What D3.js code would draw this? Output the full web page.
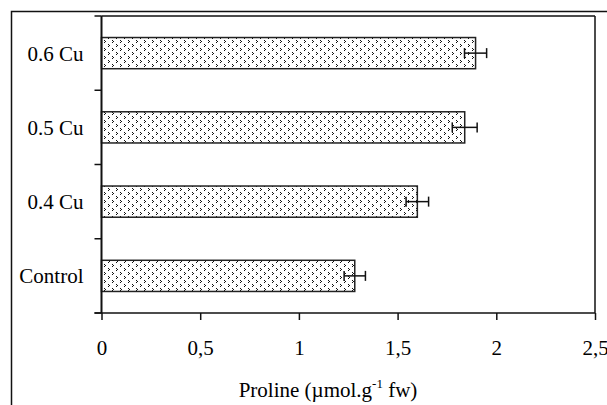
<!DOCTYPE html>
<html><head><meta charset="utf-8">
<script src="https://cdn.jsdelivr.net/npm/d3@7"></script>
<style>body{margin:0;background:#fff}svg{display:block}text{font-family:"Liberation Serif","Times New Roman",serif;fill:#000}</style>
</head><body><svg id="c" width="607" height="405"></svg>
<script>
const categories = ["0.6 Cu", "0.5 Cu", "0.4 Cu", "Control"];
const values = [1.895, 1.84, 1.60, 1.283];
const errors = [0.056, 0.063, 0.057, 0.054];
const xTicks = [0, 0.5, 1, 1.5, 2, 2.5];
const xTickLabels = ["0", "0,5", "1", "1,5", "2", "2,5"];

const svg = d3.select("#c");
const L = 101.5, R = 595, T = 16, B = 313;
const FS = 21;
const x = d3.scaleLinear().domain([0, 2.5]).range([L, R]);
const y = d3.scaleBand().domain(categories).range([T, B]).padding(0);
const barH = y.bandwidth() * 0.42;

const defs = svg.append("defs");
const pat = defs.append("pattern").attr("id", "dots").attr("patternUnits", "userSpaceOnUse")
  .attr("width", 8).attr("height", 8);
pat.append("rect").attr("width", 8).attr("height", 8).attr("fill", "#fff");
[[0,0],[1,1],[0,2],[4,4],[5,5],[4,6]].forEach(([a,b]) =>
  pat.append("rect").attr("x", a).attr("y", b).attr("width", 1).attr("height", 1).attr("fill", "#111"));

// outer border
svg.append("rect").attr("x", 11.5).attr("y", 11.5).attr("width", 700).attr("height", 500)
  .attr("fill", "none").attr("stroke", "#111").attr("stroke-width", 1.5);

// bars
svg.selectAll("rect.bar").data(categories).enter().append("rect").attr("class", "bar")
  .attr("x", x(0)).attr("y", d => y(d) + (y.bandwidth() - barH) / 2)
  .attr("width", (d, i) => x(values[i]) - x(0)).attr("height", barH)
  .attr("fill", "url(#dots)").attr("stroke", "#222").attr("stroke-width", 1.5);

// error bars
const eb = svg.selectAll("g.eb").data(categories).enter().append("g").attr("class", "eb");
eb.append("line").attr("x1", (d, i) => x(values[i] - errors[i])).attr("x2", (d, i) => x(values[i] + errors[i]))
  .attr("y1", d => y(d) + y.bandwidth() / 2).attr("y2", d => y(d) + y.bandwidth() / 2)
  .attr("stroke", "#111").attr("stroke-width", 1.5);
[-1, 1].forEach(s => {
  eb.append("line").attr("x1", (d, i) => x(values[i] + s * errors[i])).attr("x2", (d, i) => x(values[i] + s * errors[i]))
    .attr("y1", d => y(d) + y.bandwidth() / 2 - 5).attr("y2", d => y(d) + y.bandwidth() / 2 + 5)
    .attr("stroke", "#111").attr("stroke-width", 1.5);
});

// plot frame top and right
svg.append("line").attr("x1", L).attr("x2", R).attr("y1", T).attr("y2", T).attr("stroke", "#111").attr("stroke-width", 1.5);
svg.append("line").attr("x1", R).attr("x2", R).attr("y1", T).attr("y2", B).attr("stroke", "#111").attr("stroke-width", 1.5);

// x axis
const xa = svg.append("g").attr("transform", `translate(0,${B})`)
  .call(d3.axisBottom(x).tickValues(xTicks).tickFormat((d, i) => xTickLabels[i]).tickSize(7).tickPadding(20));
xa.select(".domain").remove();
xa.append("line").attr("x1", L - 7).attr("x2", R).attr("stroke", "#111").attr("stroke-width", 1.5);
xa.selectAll(".tick line").attr("stroke", "#111").attr("stroke-width", 1.5);
xa.selectAll("text").attr("font-size", FS).attr("font-family", "Liberation Serif").attr("fill", "#000");

// y axis
const ya = svg.append("g").attr("transform", `translate(${L},0)`);
ya.append("line").attr("y1", T).attr("y2", B).attr("stroke", "#111").attr("stroke-width", 2);
const bounds = [T].concat(categories.map(c => y(c) + y.bandwidth()));
ya.selectAll("line.tk").data(bounds).enter().append("line").attr("class", "tk")
  .attr("x1", -7).attr("x2", 0).attr("y1", d => d).attr("y2", d => d).attr("stroke", "#111").attr("stroke-width", 1.5);
ya.selectAll("text").data(categories).enter().append("text")
  .attr("x", -18).attr("y", d => y(d) + y.bandwidth() / 2 + 7.5)
  .attr("text-anchor", "end").attr("font-size", FS).text(d => d);

// x title
const t = svg.append("text").attr("x", 328).attr("y", 397).attr("text-anchor", "middle").attr("font-size", FS);
t.append("tspan").text("Proline (µmol.g");
t.append("tspan").attr("dy", -9).attr("font-size", 13).text("-1");
t.append("tspan").attr("dy", 9).text(" fw)");
</script></body></html>
